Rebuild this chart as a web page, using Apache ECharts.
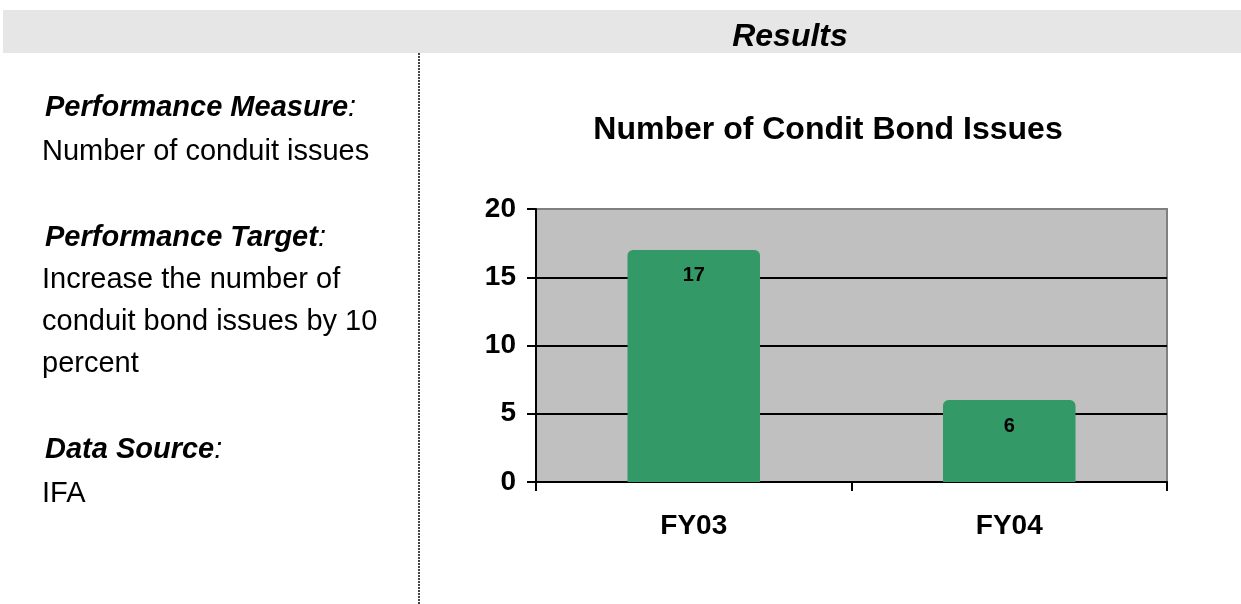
<!DOCTYPE html>
<html>
<head>
<meta charset="utf-8">
<script src="https://cdn.jsdelivr.net/npm/echarts@6/dist/echarts.min.js"></script>
<style>
	html, body { margin: 0; padding: 0; background: #fff; }
	#main { width: 1241px; height: 604px; }
</style>
</head>
<body>
<div id="main"></div>
<script>
// chart data
var categories = ['FY03', 'FY04'];
var bondIssues = [17, 6];
var yTicks = [0, 5, 10, 15, 20];

var FONT = 'Liberation Sans, Arial, sans-serif';
var BAR_COLOR = '#339966';

var myChart = echarts.init(document.getElementById('main'));

// plain text line on the left panel, y is the vertical middle
function sideText(x, y, text) {
	return {
		type : 'text',
		x : x,
		y : y,
		style : {
			text : text,
			font : '29px ' + FONT,
			fill : '#000',
			verticalAlign : 'middle'
		}
	};
}

// bold italic heading with a plain italic colon
function sideHeading(x, y, text) {
	return {
		type : 'text',
		x : x,
		y : y,
		style : {
			rich : {
				b : { font : 'italic bold 29px ' + FONT, fill : '#000' },
				i : { font : 'italic 29px ' + FONT, fill : '#000' }
			},
			text : '{b|' + text + '}{i|:}',
			verticalAlign : 'middle'
		}
	};
}

var option = {
	animation : false,
	title : {
		text : 'Number of Condit Bond Issues',
		left : 823,
		top : 109,
		textAlign : 'center',
		textStyle : {
			fontFamily : FONT,
			fontSize : 32,
			fontWeight : 'bold',
			color : '#000'
		}
	},
	graphic : [
		{
			type : 'rect',
			shape : { x : 3, y : 10, width : 1238, height : 43 },
			style : { fill : '#e6e6e6' },
			z : -1
		},
		{
			type : 'text',
			x : 790,
			y : 37,
			style : {
				text : 'Results',
				font : 'italic bold 32px ' + FONT,
				fill : '#000',
				align : 'center',
				verticalAlign : 'middle'
			}
		},
		{
			type : 'line',
			shape : { x1 : 419, y1 : 53, x2 : 419, y2 : 604 },
			style : { stroke : '#444', lineWidth : 2, lineDash : [2, 1] }
		},
		sideHeading(45, 108, 'Performance Measure'),
		sideText(42, 152, 'Number of conduit issues'),
		sideHeading(45, 238, 'Performance Target'),
		sideText(42, 280, 'Increase the number of'),
		sideText(42, 322, 'conduit bond issues by 10'),
		sideText(42, 364, 'percent'),
		sideHeading(45, 450, 'Data Source'),
		sideText(42, 494, 'IFA')
	],
	grid : {
		left : 536,
		right : 74,
		top : 209,
		bottom : 122,
		show : true,
		backgroundColor : '#c0c0c0',
		borderColor : '#808080',
		borderWidth : 2
	},
	xAxis : {
		type : 'category',
		data : categories,
		axisLine : { lineStyle : { color : '#000', width : 2 } },
		axisTick : { show : true, length : 9, lineStyle : { color : '#000', width : 2 } },
		axisLabel : {
			margin : 30,
			fontFamily : FONT,
			fontSize : 28,
			fontWeight : 'bold',
			color : '#000'
		}
	},
	yAxis : {
		type : 'value',
		min : yTicks[0],
		max : yTicks[yTicks.length - 1],
		interval : yTicks[1] - yTicks[0],
		axisLine : { show : true, lineStyle : { color : '#000', width : 2 } },
		axisTick : { show : true, length : 9, lineStyle : { color : '#000', width : 2 } },
		splitLine : {
			show : true,
			showMaxLine : false,
			lineStyle : { color : '#000', width : 2 }
		},
		axisLabel : {
			margin : 20,
			padding : [5, 0, 0, 0],
			fontFamily : FONT,
			fontSize : 28,
			fontWeight : 'bold',
			color : '#000'
		}
	},
	series : [ {
		name : 'Bond issues',
		type : 'bar',
		data : bondIssues,
		barWidth : '42%',
		itemStyle : {
			color : BAR_COLOR,
			borderColor : BAR_COLOR,
			borderWidth : 3,
			borderRadius : [4, 4, 0, 0]
		},
		label : {
			show : true,
			position : 'insideTop',
			distance : 16,
			fontFamily : FONT,
			fontSize : 20,
			fontWeight : 'bold',
			color : '#000'
		}
	} ]
};

myChart.setOption(option);
</script>
</body>
</html>
